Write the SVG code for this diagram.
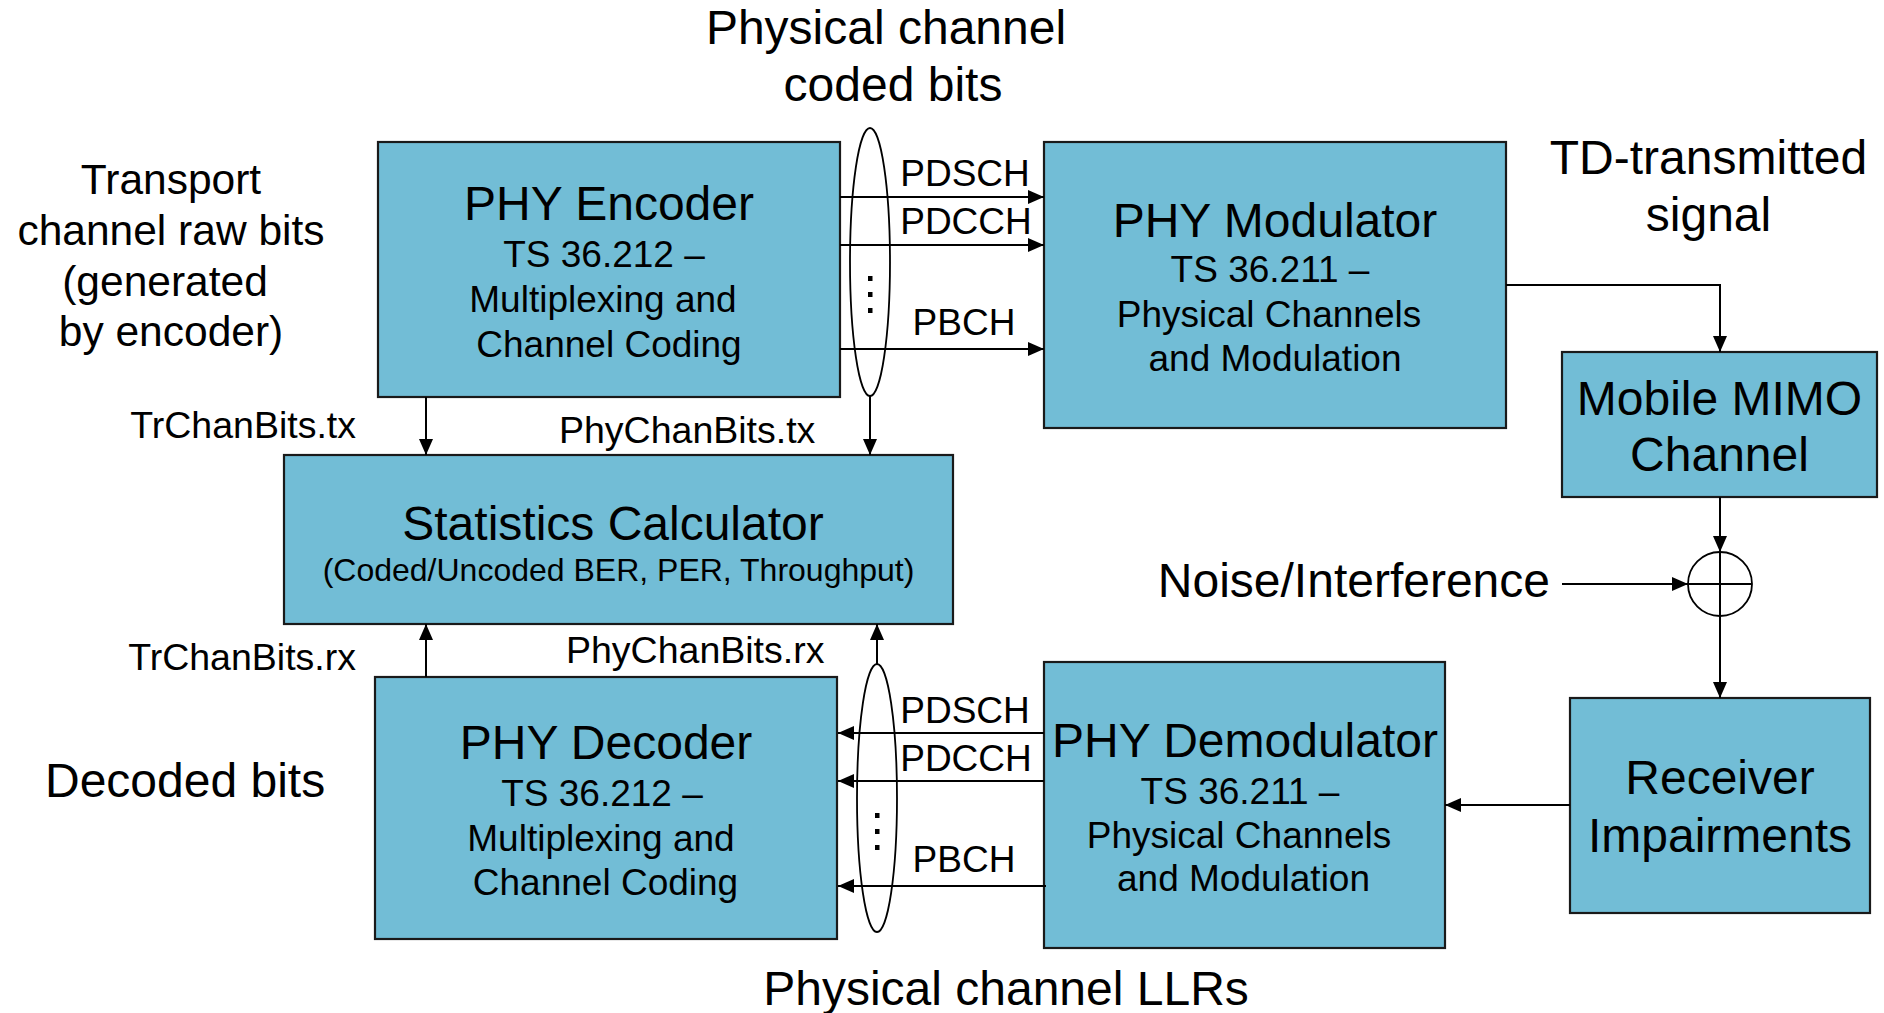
<svg xmlns="http://www.w3.org/2000/svg" width="1884" height="1013" viewBox="0 0 1884 1013">
<style>
text{font-family:"Liberation Sans",Arial,sans-serif;fill:#000}
.box{fill:#72BDD6;stroke:#1a1a1a;stroke-width:2.2}
.t48{font-size:48px;text-anchor:middle}
.t37{font-size:37px;text-anchor:middle}
.lbl{font-size:37.5px}
.ch{font-size:37px;text-anchor:middle}
.big{font-size:48px}
.side{font-size:42.5px;text-anchor:middle}
.ln{fill:none;stroke:#000;stroke-width:2}
.ell{fill:none;stroke:#000;stroke-width:1.8}
</style>
<defs>
<marker id="ah" markerUnits="userSpaceOnUse" markerWidth="16" markerHeight="14" refX="16" refY="7" orient="auto">
<path d="M0,0 L16,7 L0,14 Z" fill="#000"/>
</marker>
</defs>
<rect width="1884" height="1013" fill="#fff"/>

<g id="encoder">
<rect class="box" x="378" y="142" width="462" height="255"/>
<text class="t48" x="609" y="220">PHY Encoder</text>
<text class="t37" x="604" y="267">TS 36.212 –</text>
<text class="t37" x="603" y="312">Multiplexing and</text>
<text class="t37" x="609" y="357">Channel Coding</text>
</g>

<g id="modulator">
<rect class="box" x="1044" y="142" width="462" height="286"/>
<text class="t48" x="1275" y="237">PHY Modulator</text>
<text class="t37" x="1270" y="282">TS 36.211 –</text>
<text class="t37" x="1269" y="327">Physical Channels</text>
<text class="t37" x="1275" y="371">and Modulation</text>
</g>

<g id="mimo">
<rect class="box" x="1562" y="352" width="315" height="145"/>
<text class="t48" x="1719.5" y="415">Mobile MIMO</text>
<text class="t48" x="1719.5" y="471">Channel</text>
</g>

<g id="stats">
<rect class="box" x="284" y="455" width="669" height="169"/>
<text class="t48" x="613" y="540">Statistics Calculator</text>
<text x="618.5" y="581" style="font-size:32px;text-anchor:middle">(Coded/Uncoded BER, PER, Throughput)</text>
</g>

<g id="decoder">
<rect class="box" x="375" y="677" width="462" height="262"/>
<text class="t48" x="606" y="759">PHY Decoder</text>
<text class="t37" x="602" y="806">TS 36.212 –</text>
<text class="t37" x="601" y="851">Multiplexing and</text>
<text class="t37" x="605.5" y="895">Channel Coding</text>
</g>

<g id="demodulator">
<rect class="box" x="1044" y="662" width="401" height="286"/>
<text class="t48" x="1245" y="757">PHY Demodulator</text>
<text class="t37" x="1240" y="804">TS 36.211 –</text>
<text class="t37" x="1239" y="848">Physical Channels</text>
<text class="t37" x="1243.5" y="891">and Modulation</text>
</g>

<g id="receiver">
<rect class="box" x="1570" y="698" width="300" height="215"/>
<text class="t48" x="1720" y="794">Receiver</text>
<text class="t48" x="1720" y="852">Impairments</text>
</g>

<g id="summer">
<circle cx="1720" cy="584" r="32" class="ell"/>
<line x1="1688" y1="584" x2="1752" y2="584" class="ln" stroke-width="1.5"/>
</g>

<g id="bundle-tx">
<ellipse cx="870" cy="262" rx="20" ry="134" class="ell"/>
<rect x="868" y="276" width="4.5" height="5"/>
<rect x="868" y="292" width="4.5" height="5"/>
<rect x="868" y="308" width="4.5" height="5"/>
</g>

<g id="bundle-rx">
<ellipse cx="877" cy="798" rx="20" ry="134" class="ell"/>
<rect x="875" y="813" width="4.5" height="5"/>
<rect x="875" y="829" width="4.5" height="5"/>
<rect x="875" y="845" width="4.5" height="5"/>
</g>

<g id="connectors">
<line class="ln" x1="840" y1="197" x2="1044" y2="197" marker-end="url(#ah)"/>
<line class="ln" x1="840" y1="245" x2="1044" y2="245" marker-end="url(#ah)"/>
<line class="ln" x1="840" y1="349" x2="1044" y2="349" marker-end="url(#ah)"/>
<line class="ln" x1="426" y1="397" x2="426" y2="455" marker-end="url(#ah)"/>
<line class="ln" x1="870" y1="396" x2="870" y2="455" marker-end="url(#ah)"/>
<polyline class="ln" points="1506,285 1720,285 1720,352" marker-end="url(#ah)"/>
<line class="ln" x1="1720" y1="497" x2="1720" y2="552" marker-end="url(#ah)"/>
<line class="ln" x1="1562" y1="584" x2="1688" y2="584" marker-end="url(#ah)"/>
<line class="ln" x1="1720" y1="552" x2="1720" y2="698" marker-end="url(#ah)"/>
<line class="ln" x1="1570" y1="805" x2="1445" y2="805" marker-end="url(#ah)"/>
<line class="ln" x1="1044" y1="733" x2="838" y2="733" marker-end="url(#ah)"/>
<line class="ln" x1="1044" y1="781" x2="838" y2="781" marker-end="url(#ah)"/>
<line class="ln" x1="1046" y1="886" x2="838" y2="886" marker-end="url(#ah)"/>
<line class="ln" x1="426" y1="677" x2="426" y2="624" marker-end="url(#ah)"/>
<line class="ln" x1="877" y1="664" x2="877" y2="624" marker-end="url(#ah)"/>
</g>

<g id="labels">
<text class="ch" x="965" y="186">PDSCH</text>
<text class="ch" x="966" y="234">PDCCH</text>
<text class="ch" x="964" y="335">PBCH</text>
<text class="ch" x="965" y="723">PDSCH</text>
<text class="ch" x="966" y="771">PDCCH</text>
<text class="ch" x="964" y="872">PBCH</text>
<text class="lbl" x="356" y="438" text-anchor="end">TrChanBits.tx</text>
<text class="lbl" x="559" y="443">PhyChanBits.tx</text>
<text class="lbl" x="356" y="670" text-anchor="end">TrChanBits.rx</text>
<text class="lbl" x="566" y="663">PhyChanBits.rx</text>
<text class="side" x="171" y="194">Transport</text>
<text class="side" x="171" y="245">channel raw bits</text>
<text class="side" x="165" y="296">(generated</text>
<text class="side" x="171" y="346">by encoder)</text>
<text class="big" x="45" y="797">Decoded bits</text>
<text class="big" x="886" y="44" text-anchor="middle">Physical channel</text>
<text class="big" x="893" y="101" text-anchor="middle">coded bits</text>
<text class="big" x="1006" y="1005" text-anchor="middle">Physical channel LLRs</text>
<text class="big" x="1708.5" y="174" text-anchor="middle">TD-transmitted</text>
<text class="big" x="1708.5" y="231" text-anchor="middle">signal</text>
<text class="big" x="1550" y="597" text-anchor="end">Noise/Interference</text>
</g>
</svg>
